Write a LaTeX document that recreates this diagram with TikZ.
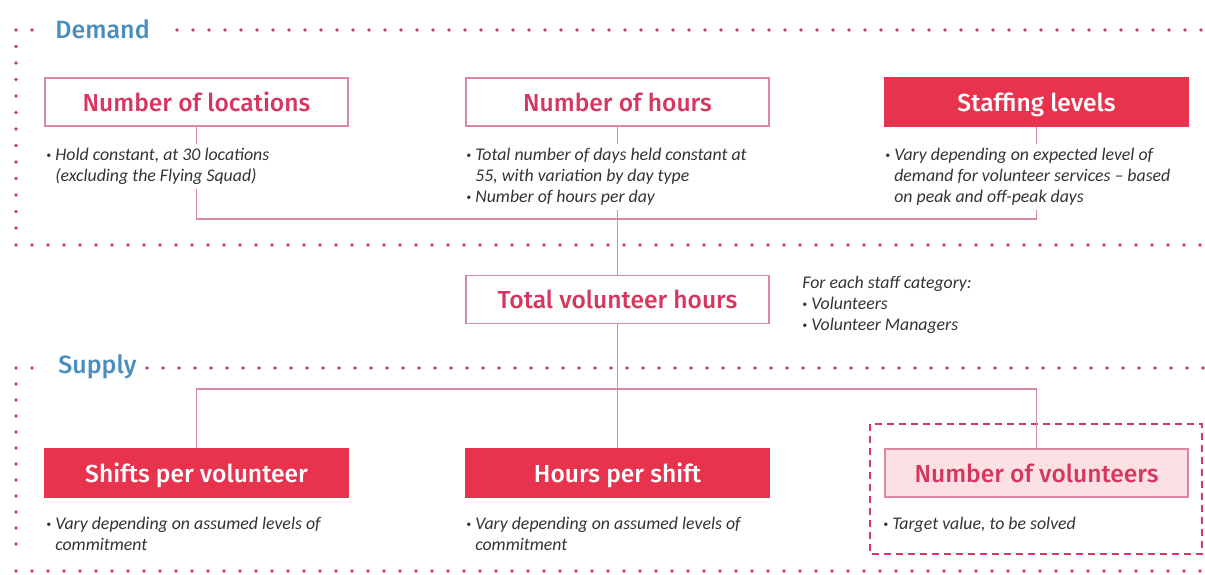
\documentclass[tikz,border=0pt]{standalone}
\usepackage{fontspec}
\setmainfont{Carlito}
\newfontfamily\headfont{Fira Sans Medium}

\definecolor{brandred}{HTML}{E8334F}
\definecolor{brandpink}{HTML}{D6375F}
\definecolor{linepink}{HTML}{D9889E}
\definecolor{dotpink}{HTML}{CC3B6E}
\definecolor{softpink}{HTML}{FCE1E4}
\definecolor{headblue}{HTML}{4A8DBF}
\definecolor{notegray}{HTML}{333333}

\tikzset{
  openbox/.style={draw=linepink, line width=0.7pt, text=brandpink, minimum width=151.5pt,
    minimum height=24pt, inner sep=0pt, text height=10pt, text depth=1pt,
    font=\headfont\fontsize{12.3}{14}\selectfont},
  solidbox/.style={openbox, fill=brandred, draw=brandred, text=white},
  targetbox/.style={openbox, fill=softpink},
  note/.style={anchor=north west, align=left, fill=white, inner sep=2pt, text=notegray,
    font=\fontsize{8.9}{10.5}\selectfont\itshape},
  link/.style={draw=linepink, line width=0.8pt},
  dot/.style={fill=dotpink},
  section/.style={anchor=west, text=headblue, inner sep=0pt, font=\headfont\fontsize{12.5}{14}\selectfont},
}
\newcommand{\bul}{\raisebox{0.3ex}{\scalebox{0.55}{\textbullet}}\ }
\newcommand{\ind}{\hphantom{\bul}}

\begin{document}
\begin{tikzpicture}[x=0.5pt, y=-0.5pt]
    \useasboundingbox (0,0) rectangle (1205,574);

    % dotted frames
    \foreach \x in {16,32,177,193,...,1205} \fill[dot] (\x,30) circle (0.9pt);
    \foreach \y in {46.5,63,...,230} \fill[dot] (16,\y) circle (0.9pt);
    \foreach \x in {16,32,...,1205} \fill[dot] (\x,245) circle (0.9pt);
    \foreach \x in {16,32,147,163,...,1205} \fill[dot] (\x,368) circle (0.9pt);
    \foreach \y in {384,400,...,556} \fill[dot] (16,\y) circle (0.9pt);
    \foreach \x in {16,32,...,1205} \fill[dot] (\x,571) circle (0.9pt);
    \node[section] (demand) at (55,29) {Demand};
    \node[section] (supply) at (58,367) {Supply};

    % demand
    \node[openbox] (loc) at (196.5,102) {Number of locations};
    \node[openbox] (hrs) at (617.5,102) {Number of hours};
    \node[solidbox] (staff) at (1036.5,102) {Staffing levels};
    \node[openbox] (tot) at (617.5,299.5) {Total volunteer hours};

    % supply
    \node[solidbox] (shifts) at (196.5,473) {Shifts per volunteer};
    \node[solidbox] (hps) at (617.5,473) {Hours per shift};
    \node[targetbox] (nvol) at (1036.5,473) {Number of volunteers};
    \draw[draw=brandpink, line width=1pt, dash pattern=on 3.5pt off 2.5pt]
        (870,424) rectangle (1202,554);

    \coordinate (dbus) at (617.5,219);
    \coordinate (sbus) at (617.5,389);
    \draw[link] (loc.south) |- (dbus) -| (staff.south);
    \draw[link] (hrs.south) -- (tot.north);
    \draw[link] (tot.south) -- (hps.north);
    \draw[link] (shifts.north) |- (sbus) -| (nvol.north);

    \node[note] (loctxt) at (42,144) {\bul Hold constant, at 30 locations\\\ind(excluding the Flying Squad)};
    \node[note] (hrstxt) at (462,144) {\bul Total number of days held constant at\\\ind 55, with variation by day type\\\bul Number of hours per day};
    \node[note] (stafftxt) at (881,144) {\bul Vary depending on expected level of\\\ind demand for volunteer services -- based\\\ind on peak and off-peak days};
    \node[note] (tottxt) at (798,272) {For each staff category:\\\bul Volunteers\\\bul Volunteer Managers};
    \node[note] (shiftstxt) at (42,513) {\bul Vary depending on assumed levels of\\\ind commitment};
    \node[note] (hpstxt) at (462,513) {\bul Vary depending on assumed levels of\\\ind commitment};
    \node[note, fill=none] (nvoltxt) at (879,513) {\bul Target value, to be solved};
\end{tikzpicture}
\end{document}
